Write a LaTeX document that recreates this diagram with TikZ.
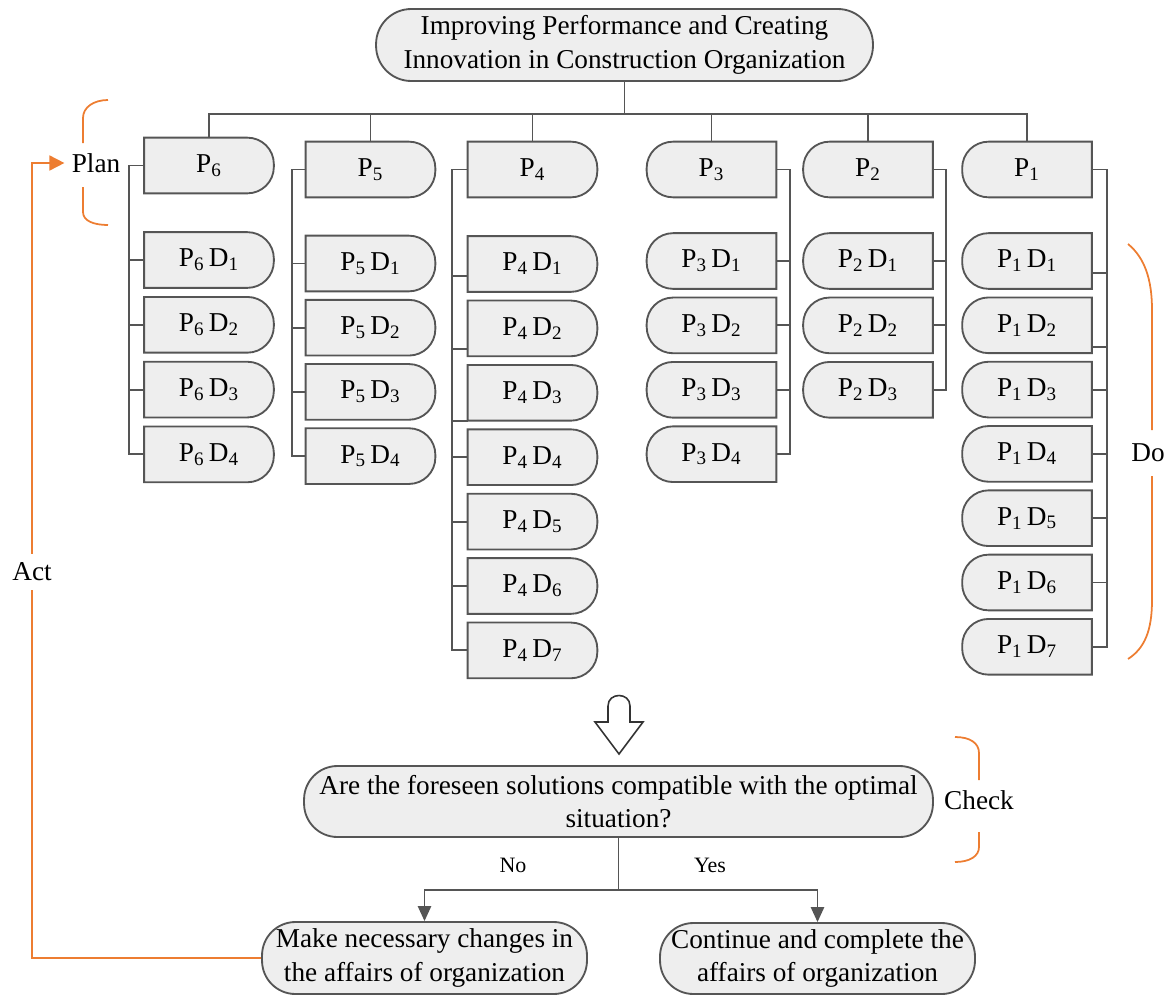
\documentclass[tikz,border=0pt]{standalone}
\usepackage{fontspec}
\setmainfont{Liberation Serif}
\usetikzlibrary{arrows.meta,calc}
\definecolor{lineg}{RGB}{85,85,85}
\definecolor{boxf}{RGB}{238,238,238}
\definecolor{orng}{RGB}{237,125,49}
\pgfdeclarelayer{bg}
\pgfsetlayers{bg,main}
\newcommand\mainsz{\fontsize{15.5}{19}\selectfont}
\newcommand\smallsz{\fontsize{12.5}{15}\selectfont}
\newcommand\pd[2]{P\textsubscript{#1}\kern2.5pt D\textsubscript{#2}}
\newcommand\pp[1]{P\textsubscript{#1}}
\newcommand\rbox[1]{\path[boxline] (#1.north) [rounded corners=15pt] -- (#1.north east) -- (#1.south east) -- (#1.south) [sharp corners] -- (#1.south west) -- (#1.north west) -- cycle;}
\newcommand\lbox[1]{\path[boxline] (#1.north) [rounded corners=15pt] -- (#1.north west) -- (#1.south west) -- (#1.south) [sharp corners] -- (#1.south east) -- (#1.north east) -- cycle;}
\tikzset{
  boxline/.style={draw=lineg, fill=boxf, line width=1.05pt},
  pbox/.style={rectangle, minimum width=2.58cm, minimum height=1.1cm, inner sep=0pt, font=\mainsz},
  roundbox/.style={rectangle, draw=lineg, fill=boxf, line width=1.05pt, inner sep=0pt, align=center, font=\mainsz},
  conn/.style={draw=lineg, line width=1.05pt},
  arr/.style={conn, -{Triangle[length=8.5pt,width=7.5pt]}},
  orline/.style={draw=orng, line width=1pt},
  lbl/.style={font=\mainsz, inner sep=2pt},
}
\begin{document}
\begin{tikzpicture}[x=0.02cm,y=-0.02cm]
\useasboundingbox (0,0) rectangle (1173,994);

% top node
\node[roundbox, rounded corners=20pt, minimum width=9.94cm, minimum height=1.44cm] (top) at (624.5,45)
  {Improving Performance and Creating\\Innovation in Construction Organization};

% P row
\node[pbox] (p6) at (209,165.5) {\pp{6}};
\node[pbox] (p5) at (370.5,169.5) {\pp{5}};
\node[pbox] (p4) at (532.5,169.5) {\pp{4}};
\node[pbox] (p3) at (711.5,169.5) {\pp{3}};
\node[pbox] (p2) at (868,169.5) {\pp{2}};
\node[pbox] (p1) at (1027,169.5) {\pp{1}};

% children
\foreach \k in {1,...,4} {\pgfmathsetmacro\yy{260+64.8*(\k-1)} \node[pbox] (p6d\k) at (209,\yy) {\pd{6}{\k}};}
\foreach \k in {1,...,4} {\pgfmathsetmacro\yy{263.5+64.2*(\k-1)} \node[pbox] (p5d\k) at (370.5,\yy) {\pd{5}{\k}};}
\foreach \k in {1,...,7} {\pgfmathsetmacro\yy{264+64.4*(\k-1)} \node[pbox] (p4d\k) at (532.5,\yy) {\pd{4}{\k}};}
\foreach \k in {1,...,4} {\pgfmathsetmacro\yy{261+64.4*(\k-1)} \node[pbox] (p3d\k) at (711.5,\yy) {\pd{3}{\k}};}
\foreach \k in {1,...,3} {\pgfmathsetmacro\yy{261+64.4*(\k-1)} \node[pbox] (p2d\k) at (868,\yy) {\pd{2}{\k}};}
\foreach \k in {1,...,7} {\pgfmathsetmacro\yy{261+64.3*(\k-1)} \node[pbox] (p1d\k) at (1027,\yy) {\pd{1}{\k}};}

\begin{pgfonlayer}{bg}
\foreach \n in {p6,p6d1,p6d2,p6d3,p6d4,p5,p5d1,p5d2,p5d3,p5d4,p4,p4d1,p4d2,p4d3,p4d4,p4d5,p4d6,p4d7} {\rbox{\n}}
\foreach \n in {p3,p3d1,p3d2,p3d3,p3d4,p2,p2d1,p2d2,p2d3,p1,p1d1,p1d2,p1d3,p1d4,p1d5,p1d6,p1d7} {\lbox{\n}}
\end{pgfonlayer}

% bus from top node
\coordinate (bus) at (624.5,114);
\draw[conn] (top.south) -- (bus);
\draw[conn] (p6.north) -- (p6.north |- bus) -- (p1.north |- bus) -- (p1.north);
\foreach \n in {p5,p4,p3,p2} {\draw[conn] (\n.north) -- (\n.north |- bus);}

% column verticals
\coordinate (v6) at (129,0);
\coordinate (v5) at (292,0);
\coordinate (v4) at (452,0);
\coordinate (v3) at (790,0);
\coordinate (v2) at (946,0);
\coordinate (v1) at (1107,0);

% P6
\draw[conn] (p6.west) -- (p6.west -| v6) -- (p6d4.west -| v6) -- (p6d4.west);
\foreach \k in {1,2,3} {\draw[conn] (p6d\k.west) -- (p6d\k.west -| v6);}
% P5
\draw[conn] (p5.west) -- (p5.west -| v5) -- (p5d4.west -| v5) -- (p5d4.west);
\foreach \k in {1,2,3} {\draw[conn] (p5d\k.west) -- (p5d\k.west -| v5);}
% P4
\coordinate (s41) at ($(p4d1.west)+(0,12)$);
\coordinate (s42) at ($(p4d2.west)+(0,21)$);
\coordinate (s43) at ($(p4d3.west)+(0,28)$);
\draw[conn] (p4.west) -- (p4.west -| v4) -- (p4d7.west -| v4) -- (p4d7.west);
\foreach \s in {s41,s42,s43} {\draw[conn] (\s) -- (\s -| v4);}
\foreach \k in {4,5,6} {\draw[conn] (p4d\k.west) -- (p4d\k.west -| v4);}
% P3
\draw[conn] (p3.east) -- (p3.east -| v3) -- (p3d4.east -| v3) -- (p3d4.east);
\foreach \k in {1,2,3} {\draw[conn] (p3d\k.east) -- (p3d\k.east -| v3);}
% P2
\draw[conn] (p2.east) -- (p2.east -| v2) -- (p2d3.east -| v2) -- (p2d3.east);
\foreach \k in {1,2} {\draw[conn] (p2d\k.east) -- (p2d\k.east -| v2);}
% P1
\coordinate (s11) at ($(p1d1.east)+(0,12)$);
\coordinate (s12) at ($(p1d2.east)+(0,21.5)$);
\draw[conn] (p1.east) -- (p1.east -| v1) -- (p1d7.east -| v1) -- (p1d7.east);
\foreach \s in {s11,s12} {\draw[conn] (\s) -- (\s -| v1);}
\foreach \k in {3,4,5,6} {\draw[conn] (p1d\k.east) -- (p1d\k.east -| v1);}

% hollow arrow
\path[draw=black!80, fill=white, line width=0.9pt] (608,722) -- (608,706) .. controls (608,692) and (630,692) .. (630,706) -- (630,722) -- (643,722) -- (619,754) -- (595,722) -- cycle;

% check node and outcomes
\node[roundbox, rounded corners=19pt, minimum width=12.58cm, minimum height=1.42cm] (chk) at (618.5,801.5)
  {Are the foreseen solutions compatible with the optimal\\situation?};
\node[roundbox, rounded corners=19pt, minimum width=6.5cm, minimum height=1.44cm] (make) at (424.5,958)
  {Make necessary changes in\\the affairs of organization};
\node[roundbox, rounded corners=19pt, minimum width=6.3cm, minimum height=1.42cm] (cont) at (817.5,958.5)
  {Continue and complete the\\affairs of organization};
\coordinate (br) at (618.5,890);
\draw[conn] (chk.south) -- (br);
\draw[arr] (br) -| (make.north);
\draw[arr] (br) -| (cont.north);
\node[font=\smallsz, inner sep=1pt] (no) at (513,865) {No};
\node[font=\smallsz, inner sep=1pt] (yes) at (710,865) {Yes};

% PDCA labels
\node[lbl, inner sep=4pt] (plan) at (96,163) {Plan};
\node[lbl, fill=white, inner sep=5pt] (act) at (32,572) {Act};
\node[lbl] (do) at (1148,453) {Do};
\node[lbl] (check) at (979,800) {Check};

% orange feedback loop
\coordinate (actx) at (32,0);
\draw[orline] (make.west) -- (make.west -| actx) -- (act.south);
\draw[orline, -{Triangle[length=8.5pt,width=8.5pt]}] (act.north) -- (actx |- plan.west) -- (plan.west);

% braces
\draw[orline] (108,100) .. controls (94,100) and (83,107) .. (83,118) -- (83,143);
\draw[orline] (83,187) -- (83,212) .. controls (83,221) and (94,225) .. (108,225);
\draw[orline] (955,737) .. controls (970,737) and (979,743) .. (979,753) -- (979,780);
\draw[orline] (979,832) -- (979,847) .. controls (979,856) and (970,862) .. (955,862);
\draw[orline] (1128,244) .. controls (1145,258) and (1152,280) .. (1152,310) -- (1152,430);
\draw[orline] (1152,476) -- (1152,600) .. controls (1152,630) and (1145,648) .. (1128,659);
\end{tikzpicture}
\end{document}
